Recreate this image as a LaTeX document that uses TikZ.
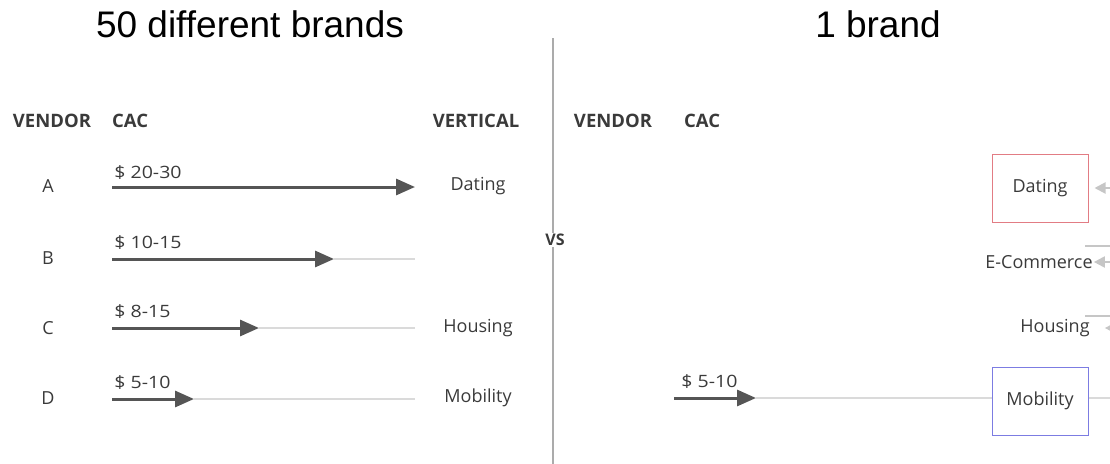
\documentclass[tikz,border=0pt]{standalone}
\usepackage{fontspec}
\setmainfont{Open Sans}
\newfontfamily\titlefont{Liberation Sans}
\usetikzlibrary{positioning,arrows.meta}
\definecolor{ink}{HTML}{3A3A3A}
\definecolor{arrowgray}{HTML}{555555}
\definecolor{trackgray}{HTML}{DADADA}
\definecolor{faintgray}{HTML}{C6C6C6}
\definecolor{divgray}{HTML}{ABABAB}
\definecolor{boxred}{HTML}{E27C84}
\definecolor{boxblue}{HTML}{7C7CE2}

\begin{document}
\begin{tikzpicture}[x=1pt,y=-1pt,every node/.style={font=\fontsize{18}{21}\selectfont,text=ink,inner sep=1pt}]
   \tikzstyle{title}=[font=\fontsize{37}{40}\selectfont\titlefont, text=black];
   \tikzstyle{hd}=[font=\fontsize{18.5}{21}\selectfont\bfseries];
   \tikzstyle{price}=[font=\fontsize{17}{20}\selectfont, anchor=base west, xscale=1.15];
   \tikzstyle{cac}=[draw=arrowgray,line width=3pt,-{Triangle[length=19pt,width=16pt]}];
   \tikzstyle{trk}=[draw=trackgray,line width=2pt];
   \tikzstyle{fa}=[draw=faintgray,line width=2pt,-{Triangle[length=11pt,width=11pt]}];
   \tikzstyle{vbox}=[draw,line width=1pt,minimum width=96pt,minimum height=68pt];
   \useasboundingbox (0,0) rectangle (1110,463);
   \clip (0,0) rectangle (1110,463);
   % titles and headers
   \node[title] (t1)    at (250,24)  {50 different brands};
   \node[title] (t2)    at (878,24)  {1 brand};
   \node[hd] (hven)     at (52,121)  {VENDOR};
   \node[hd,anchor=west] (hcac) at (111,121) {CAC};
   \node[hd] (hvert)    at (476,121) {VERTICAL};
   \node[hd] (hven2)    at (613,121) {VENDOR};
   \node[hd,anchor=west] (hcac2) at (683,121) {CAC};
   % divider
   \node[hd,font=\fontsize{16}{19}\selectfont\bfseries] (vs) at (555,240) {VS};
   \coordinate (dtop)   at (553,38);
   \coordinate (dbot)   at (553,470);
   \draw[divgray,line width=1.5pt] (dtop) -- (dtop |- vs.north);
   \draw[divgray,line width=1.5pt] (dtop |- vs.south) -- (dbot);
   % left: vendors
   \node (va) at (48,186) {A};
   \node (vb) at (48,258) {B};
   \node (vc) at (48,328) {C};
   \node (vd) at (48,398) {D};
   \node (dat) at (478,186) {Dating};
   \node (hou) at (478,328) {Housing};
   \node (mob) at (478,398) {Mobility};
   \coordinate (sA) at (112,187); \coordinate (tA) at (415,187);
   \coordinate (sB) at (112,259); \coordinate (tB) at (334,259); \coordinate (eB) at (415,259);
   \coordinate (sC) at (112,328); \coordinate (tC) at (259,328); \coordinate (eC) at (415,328);
   \coordinate (sD) at (112,399); \coordinate (tD) at (194,399); \coordinate (eD) at (415,399);
   \draw[trk] (tB) -- (eB);
   \draw[trk] (tC) -- (eC);
   \draw[trk] (tD) -- (eD);
   \draw[cac] (sA) -- (tA);
   \draw[cac] (sB) -- (tB);
   \draw[cac] (sC) -- (tC);
   \draw[cac] (sD) -- (tD);
   \node[price] (pa) at (113,178) {\$ 20-30};
   \node[price] (pb) at (113,248) {\$ 10-15};
   \node[price] (pc) at (113,317) {\$ 8-15};
   \node[price] (pd) at (113,388) {\$ 5-10};
   % right: one brand
   \node[vbox,draw=boxred]  (dat2) at (1040,188) {Dating};
   \node (eco2) at (1039,262) {E-Commerce};
   \node (hou2) at (1055,328) {Housing};
   \node[vbox,draw=boxblue] (mob2) at (1040,401) {Mobility};
   \coordinate (s2) at (674,398); \coordinate (t2) at (756,398);
   \draw[trk] (t2) -- (mob2.west |- t2);
   \draw[cac] (s2) -- (t2);
   \node[price] (p2) at (680,387) {\$ 5-10};
   \coordinate (rA) at (1130,188);
   \coordinate (rB) at (1130,262);
   \coordinate (rC) at (1130,328);
   \coordinate (rD) at (1130,398);
   \draw[fa,shorten >=6pt] (rA) -- (dat2.east);
   \draw[fa] (rB) -- (eco2.east);
   \draw[fa,shorten >=14pt] (rC) -- (hou2.east);
   \draw[trackgray,line width=1.5pt] (rD) -- (mob2.east |- rD);
   \coordinate (uB) at (1085,246); \coordinate (uC) at (1085,316);
   \draw[faintgray,line width=2pt] (uB) -- (uB -| rB);
   \draw[faintgray,line width=2pt] (uC) -- (uC -| rC);
\end{tikzpicture}
\end{document}
